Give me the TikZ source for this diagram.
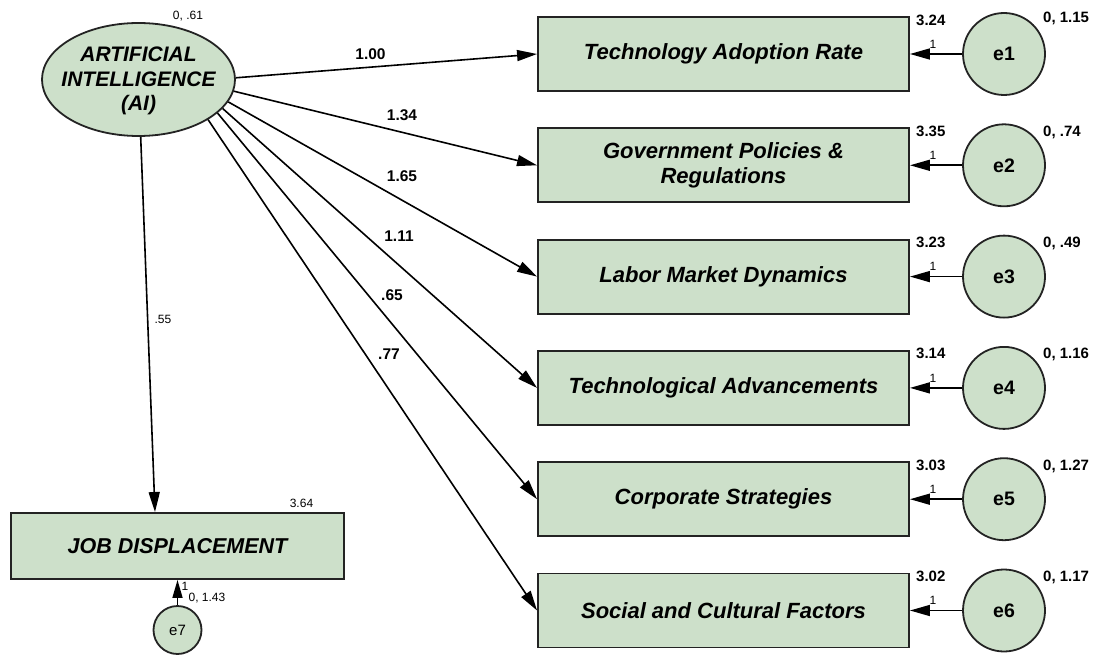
\documentclass[tikz,border=0pt]{standalone}
\usepackage{fontspec}
\setmainfont{Liberation Sans}
\usetikzlibrary{arrows.meta,shapes.geometric,calc}

\definecolor{fillg}{RGB}{205,224,202}
\definecolor{bord}{RGB}{35,35,35}

\begin{document}
\begin{tikzpicture}[x=1pt,y=-1pt,
  obsbox/.style={draw=bord, line width=1.9pt, fill=fillg, minimum width=371pt,
    minimum height=74pt, inner sep=0pt, align=center,
    font=\fontsize{22}{25}\selectfont\bfseries\itshape},
  latent/.style={ellipse, draw=bord, line width=1.8pt, fill=fillg,
    minimum width=193pt, minimum height=113pt, inner sep=0pt},
  lattext/.style={align=center, inner sep=0pt,
    font=\fontsize{21}{24.5}\selectfont\bfseries\itshape},
  errc/.style={circle, draw=bord, line width=1.8pt, fill=fillg,
    minimum size=82pt, inner sep=0pt, font=\fontsize{19.5}{22}\selectfont\bfseries},
  reg/.style={line width=1.6pt, draw=black, -{Triangle[length=20pt,width=11pt]}},
  est/.style={inner sep=0pt, font=\fontsize{15.5}{17}\selectfont\bfseries},
  estb/.style={inner sep=0pt, anchor=base west, font=\fontsize{15}{17}\selectfont\bfseries},
  small/.style={inner sep=0pt, font=\fontsize{12}{14}\selectfont},
]
\useasboundingbox (0,0) rectangle (1099,655);

% latent variable
\node[latent] (AI) at (138.5,79.5) {};
\node[lattext] (AItext) at (138.5,81) {ARTIFICIAL\\INTELLIGENCE\\(AI)};
\node[small] (AIvar) at (188,16) {0, .61};

% observed indicators
\node[obsbox] (b1) at (723.5,54.0) {Technology Adoption Rate};
\node[obsbox] (b2) at (723.5,165.3) {Government Policies \&\\Regulations};
\node[obsbox] (b3) at (723.5,276.6) {Labor Market Dynamics};
\node[obsbox] (b4) at (723.5,387.9) {Technological Advancements};
\node[obsbox] (b5) at (723.5,499.2) {Corporate Strategies};
\node[obsbox] (b6) at (723.5,610.5) {Social and Cultural Factors};

% error terms
\node[errc] (e1) at (1004,54.0) {e1};
\node[errc] (e2) at (1004,165.3) {e2};
\node[errc] (e3) at (1004,276.6) {e3};
\node[errc] (e4) at (1004,387.9) {e4};
\node[errc] (e5) at (1004,499.2) {e5};
\node[errc] (e6) at (1004,610.5) {e6};

% outcome and its error
\node[obsbox, minimum width=333pt, minimum height=66pt,
  font=\fontsize{21.5}{24}\selectfont\bfseries\itshape] (job) at (177.5,546) {JOB DISPLACEMENT};
\node[errc, minimum size=48pt, font=\fontsize{15}{17}\selectfont] (e7) at (177.5,630) {e7};

% loadings
\draw[reg] (AI.1) -- (b1.west);
\draw[reg] (AI.-7) -- (b2.west);
\draw[reg] (AI.-14) -- (b3.west);
\draw[reg] (AI.-19) -- (b4.west);
\draw[reg] (AI.-23) -- (b5.west);
\draw[reg] (AI.-30) -- (b6.west);
\draw[reg] (AI) -- ([xshift=-22.5pt]job.north);

% error paths
\foreach \i in {1,...,6} {
  \draw[reg] (e\i) -- (b\i);
  \node[small] (one\i) at ($(b\i.east)+(23,-10)$) {1};
}
\draw[reg, -{Triangle[length=18pt,width=10pt]}] (e7) -- (job);

% loading estimates
\node[est] (w1) at (370.5,54) {1.00};
\node[est] (w2) at (402,115) {1.34};
\node[est] (w3) at (402,176) {1.65};
\node[est] (w4) at (399,236) {1.11};
\node[est] (w5) at (392,295) {.65};
\node[est] (w6) at (389,354) {.77};
\node[small] (w7) at (163,319) {.55};

% intercepts and variances
\node[estb] (m1) at ($(b1.north east)+(6,9)$) {3.24};
\node[estb] (m2) at ($(b2.north east)+(6,9)$) {3.35};
\node[estb] (m3) at ($(b3.north east)+(6,9)$) {3.23};
\node[estb] (m4) at ($(b4.north east)+(6,9)$) {3.14};
\node[estb] (m5) at ($(b5.north east)+(6,9)$) {3.03};
\node[estb] (m6) at ($(b6.north east)+(6,9)$) {3.02};
\node[estb] (v1) at ($(b1.north east)+(133,6)$) {0, 1.15};
\node[estb] (v2) at ($(b2.north east)+(133,9)$) {0, .74};
\node[estb] (v3) at ($(b3.north east)+(133,9)$) {0, .49};
\node[estb] (v4) at ($(b4.north east)+(133,9)$) {0, 1.16};
\node[estb] (v5) at ($(b5.north east)+(133,9)$) {0, 1.27};
\node[estb] (v6) at ($(b6.north east)+(133,9)$) {0, 1.17};

\node[small] (m7) at (301.5,503) {3.64};
\node[small] (one7) at (185,586) {1};
\node[small] (v7) at (207,598) {0, 1.43};
\end{tikzpicture}
\end{document}
